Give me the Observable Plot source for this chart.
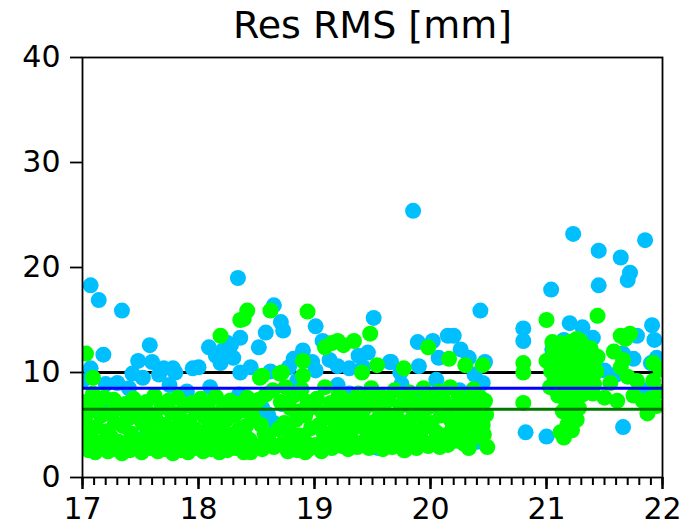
<!DOCTYPE html>
<html>
<head>
<meta charset="utf-8">
<script src="https://cdn.jsdelivr.net/npm/d3@7"></script>
<script src="https://cdn.jsdelivr.net/npm/@observablehq/plot@0.6"></script>
<style>
  html, body { margin: 0; padding: 0; background: white; }
</style>
</head>
<body>
<div id="chart"></div>
<script>
const titleText = "Res RMS [mm]";
const xTicks = [17, 18, 19, 20, 21, 22];
const yTicks = [0, 10, 20, 30, 40];
const levelBlack = 10;
const levelBlue = 8.5;
const levelGreen = 6.5;

// blue series [x, y]
const blueData = [
  [17.07,18.3],[17.14,16.9],[17.34,15.9],[18.34,19.0],[18.65,16.4],[19.85,25.4],
  [21.23,23.2],[21.85,22.6],[21.45,21.6],[21.64,20.95],[21.72,19.5],[21.70,18.8],
  [21.45,18.3],[21.04,17.9],[20.43,15.9],[19.51,15.2],[20.80,14.2],[20.80,13.0],
  [21.91,14.5],[21.93,13.1],[21.20,14.7],[21.31,14.3],[21.40,13.3],[21.78,13.5],
  [21.66,11.8],[18.71,14.8],[18.73,14.0],[18.58,13.8],[18.52,12.4],[18.36,13.3],
  [18.28,12.6],[19.01,14.4],[19.07,13.0],[18.90,12.1],[19.38,11.6],[19.46,11.9],
  [18.36,10.0],[19.01,10.2],[18.60,4.2],[19.55,2.8],[17.18,11.7],[17.58,12.6],
  [17.48,11.1],[17.60,11.0],[17.70,10.4],[17.78,10.4],[17.80,10.0],[17.95,10.4],
  [18.00,10.5],[18.09,12.4],[18.21,12.1],[18.25,12.8],[18.19,10.9],[17.30,9.0],
  [17.07,10.4],[17.52,9.5],[17.43,9.9],[17.66,9.8],[18.15,11.6],[18.30,11.4],
  [18.82,11.3],[18.78,10.5],[18.62,10.1],[18.45,10.5],[19.20,10.6],[19.30,10.4],
  [19.65,11.0],[20.15,13.5],[20.20,13.5],[19.89,12.9],[20.02,13.0],[20.47,11.0],
  [20.33,11.4],[19.66,11.0],[20.07,11.4],[20.82,4.3],[21.00,3.9],[21.66,4.8],
  [21.90,10.9],[21.05,12.2],[21.15,13.1],[21.35,12.0],[21.60,9.8],[21.95,11.4],
  [20.26,12.2],[20.38,9.8],[19.90,10.6],[19.74,10.0],[19.42,10.5],[19.13,11.2],
  [18.98,11.0],[17.25,6.5],[17.55,4.0],[17.90,8.2],[18.35,7.9],[18.55,6.6],
  [18.65,5.2],[18.72,7.0],[18.60,6.0],[18.68,5.0],[19.10,3.5],[19.30,8.0],
  [19.60,3.2],[19.85,7.6],[20.10,3.6],[20.25,8.3],[20.40,3.4],[20.45,9.0],
  [18.10,8.6],[17.40,8.5],[17.00,9.2],[19.50,2.9],[19.58,3.3],[19.35,3.0],
  [19.75,8.9],[20.05,9.3],[19.20,8.8],[18.85,9.2],[17.20,8.9],[17.75,8.8],
  [21.10,9.5],[21.28,8.0],[21.50,10.2],[21.85,8.3],[21.75,11.3]
];

// green series [x, y]
const greenData = [
  [17.01,3.0],[17.02,5.5],[17.03,7.2],[17.04,4.1],[17.05,2.6],[17.06,6.3],[17.08,3.6],[17.09,8.0],
  [17.11,2.4],[17.12,4.8],[17.13,6.9],[17.15,3.3],[17.16,5.9],[17.18,2.9],[17.19,7.6],
  [17.21,4.4],[17.22,2.5],[17.24,6.1],[17.25,3.8],[17.27,7.4],[17.28,5.2],[17.29,2.7],
  [17.31,3.4],[17.32,6.6],[17.34,2.3],[17.35,4.9],[17.37,7.0],[17.38,3.1],[17.39,5.6],
  [17.41,2.6],[17.42,4.2],[17.44,7.5],[17.45,5.8],[17.47,3.0],[17.48,6.4],
  [17.51,2.4],[17.52,5.1],[17.54,3.7],[17.55,7.2],[17.57,4.5],[17.58,2.8],[17.59,6.0],
  [17.61,3.3],[17.62,7.8],[17.64,5.4],[17.65,2.5],[17.67,4.0],[17.68,6.7],[17.69,3.0],
  [17.71,5.0],[17.72,2.7],[17.74,7.3],[17.75,3.9],[17.77,6.2],[17.78,2.3],[17.79,4.7],
  [17.81,3.2],[17.82,7.6],[17.84,5.6],[17.85,2.6],[17.87,4.3],[17.88,6.8],[17.89,3.5],
  [17.91,2.4],[17.92,5.3],[17.94,7.1],[17.95,3.0],[17.97,4.6],[17.98,6.3],[17.99,2.8],
  [18.01,4.0],[18.02,7.5],[18.04,2.5],[18.05,5.8],[18.07,3.3],[18.08,6.9],[18.09,4.8],
  [18.11,2.7],[18.12,6.0],[18.14,3.8],[18.15,7.7],[18.17,5.1],[18.18,2.4],[18.19,4.4],
  [18.21,6.5],[18.22,3.1],[18.24,5.5],[18.25,2.6],[18.27,7.3],[18.28,4.1],[18.29,3.4],
  [18.31,5.9],[18.32,2.8],[18.34,7.0],[18.35,4.6],[18.37,3.2],[18.38,6.4],[18.39,2.4],
  [18.41,4.9],[18.42,7.6],[18.44,3.6],[18.45,2.6],[18.47,5.7],[18.48,6.9],
  [18.51,3.0],[18.52,7.4],[18.54,5.0],[18.55,2.7],[18.57,4.2],[18.58,7.9],
  [18.61,3.4],[18.64,8.3],[18.65,2.9],[18.69,4.6],
  [18.71,7.2],[18.72,3.2],[18.74,5.2],[18.75,8.6],[18.77,2.5],[18.78,4.4],[18.79,6.6],
  [18.81,3.0],[18.82,7.8],[18.84,5.5],[18.85,2.6],[18.87,4.0],[18.88,6.3],[18.89,8.4],
  [18.91,3.6],[18.92,5.9],[18.94,7.2],[18.95,2.7],[18.97,4.7],[18.98,6.7],
  [19.01,3.1],[19.02,7.5],[19.04,5.0],[19.05,2.9],[19.07,6.2],[19.08,4.2],[19.09,8.6],
  [19.11,3.4],[19.12,5.7],[19.14,7.1],[19.15,2.8],[19.17,4.5],[19.18,6.6],[19.19,3.9],
  [19.21,7.9],[19.22,5.2],[19.24,3.0],[19.25,6.1],[19.27,4.3],[19.28,7.3],[19.29,2.7],
  [19.31,5.5],[19.32,3.6],[19.34,6.8],[19.35,4.8],[19.37,2.9],[19.38,8.0],[19.39,5.9],
  [19.41,3.3],[19.42,6.4],[19.44,4.6],[19.45,7.6],[19.47,2.8],[19.48,5.2],[19.49,8.5],
  [19.51,4.0],[19.52,6.9],[19.54,3.1],[19.55,5.6],[19.57,7.8],[19.58,4.5],[19.59,2.7],
  [19.61,6.2],[19.62,3.5],[19.64,7.4],[19.65,5.0],[19.67,2.9],[19.68,4.3],[19.69,8.3],
  [19.71,5.7],[19.72,3.2],[19.74,6.8],[19.75,4.9],[19.77,2.6],[19.78,7.5],[19.79,3.9],
  [19.81,5.3],[19.82,8.1],[19.84,3.4],[19.85,6.4],[19.87,4.4],[19.88,2.8],[19.89,7.1],
  [19.91,5.8],[19.92,3.7],[19.94,8.5],[19.95,4.8],[19.97,6.6],[19.98,3.0],[19.99,7.7],
  [20.01,5.2],[20.02,3.3],[20.04,6.9],[20.05,4.3],[20.07,8.2],[20.08,2.9],[20.09,5.9],
  [20.11,7.4],[20.12,4.0],[20.14,6.1],[20.15,3.1],[20.17,8.6],[20.18,5.4],[20.19,4.7],
  [20.21,6.8],[20.22,3.5],[20.24,7.9],[20.25,5.0],[20.27,4.2],[20.28,6.3],[20.29,3.2],
  [20.31,7.3],[20.32,4.9],[20.34,6.0],[20.35,3.6],[20.37,8.4],[20.38,5.5],[20.39,4.3],
  [20.41,6.6],[20.42,3.9],[20.43,7.6],[20.45,5.0],[20.46,4.1],[20.48,6.0],
  [17.03,11.8],[17.09,9.5],[18.19,13.5],[18.36,15.0],[18.42,15.9],[18.39,15.1],
  [18.62,15.9],[18.94,15.8],[19.09,12.4],[19.20,13.0],[19.34,13.0],[19.48,13.7],
  [18.53,9.5],[18.70,9.9],[18.90,11.1],[18.90,9.7],[19.41,10.0],[19.54,10.7],
  [18.72,10.0],[18.55,9.7],[18.60,4.0],[18.45,2.4],[18.92,2.4],[19.06,2.5],
  [19.98,12.4],[20.16,11.3],[20.30,10.7],[20.45,10.7],[19.77,10.4],
  [20.80,10.9],[20.80,10.0],[20.80,7.1],[20.47,7.3],[20.49,2.9],[19.78,2.6],
  [20.33,2.8],[20.41,5.4],[19.15,12.8],[19.25,12.6],
  [21.00,15.0],[21.44,15.4],[21.00,11.1],
  [21.02,11.2],[21.03,8.6],[21.04,10.1],[21.05,12.9],[21.06,12.3],[21.07,9.4],[21.08,11.6],
  [21.09,10.8],[21.10,7.8],[21.11,10.5],[21.12,4.3],[21.12,12.8],[21.13,8.9],[21.14,6.3],
  [21.15,11.0],[21.15,3.8],[21.16,9.8],[21.17,7.2],[21.18,12.5],[21.18,5.0],[21.19,10.3],
  [21.20,8.2],[21.21,11.8],[21.21,6.0],[21.22,4.5],[21.23,9.3],[21.24,12.1],[21.24,7.5],
  [21.25,10.8],[21.26,5.5],[21.27,8.7],[21.28,11.4],[21.28,6.6],[21.29,13.0],[21.30,9.9],
  [21.31,12.6],[21.31,7.9],[21.32,10.2],[21.33,10.6],[21.34,8.4],[21.35,11.9],[21.36,9.0],
  [21.37,9.2],[21.38,12.3],[21.39,10.9],[21.40,8.0],[21.41,8.9],[21.42,10.0],[21.43,10.1],
  [21.44,11.5],[21.20,12.9],[21.10,12.0],[21.26,13.2],
  [21.55,9.0],[21.61,7.3],[21.64,13.5],[21.72,13.7],[21.68,13.2],[21.64,10.5],
  [21.70,9.6],[21.78,9.2],[21.75,7.8],[21.87,6.1],[21.90,7.5],[21.92,10.9],
  [21.92,9.2],[21.97,8.2],[21.95,6.8],[21.98,10.3],[21.83,7.3],[21.66,11.2],
  [21.50,7.6],[21.58,12.0]
];

// minor tick positions (every 0.1 between 17 and 22)
const xMinorTicks = d3.range(170, 221).map(v => v / 10);

const W = 686, H = 530, mL = 82, mR = 24, mT = 57, mB = 53;
const yMin = 0, yMax = 40;
const pxPerUnit = (H - mT - mB) / (yMax - yMin);
const minorLen = 8 / pxPerUnit;   // tick lengths converted to data units
const majorLen = 12 / pxPerUnit;

const plot = Plot.plot({
  width: W,
  height: H,
  marginLeft: mL,
  marginRight: mR,
  marginTop: mT,
  marginBottom: mB,
  x: {domain: [17, 22], axis: null},
  y: {domain: [yMin, yMax], axis: null},
  style: {fontFamily: "DejaVu Sans", background: "white", color: "black"},
  marks: [
    Plot.ruleY([levelBlack], {stroke: "black", strokeWidth: 3}),
    Plot.dot(blueData, {x: d => d[0], y: d => d[1], r: 8, fill: "#00bfff", stroke: "none", clip: "frame"}),
    Plot.dot(greenData, {x: d => d[0], y: d => d[1], r: 8, fill: "#00ff00", stroke: "none", clip: "frame"}),
    Plot.ruleY([levelBlue], {stroke: "#0000ff", strokeWidth: 3}),
    Plot.ruleY([levelGreen], {stroke: "#007800", strokeWidth: 3}),
    Plot.frame({stroke: "black", strokeWidth: 1.8}),
    Plot.axisY({anchor: "left", ticks: yTicks, tickSize: 12, tickPadding: 10, fontSize: 30, strokeWidth: 1.8, tickFormat: d => String(d), label: null}),
    Plot.ruleX(xMinorTicks, {x: d => d, y1: yMin, y2: yMin - minorLen, stroke: "black", strokeWidth: 2}),
    Plot.ruleX(xTicks, {x: d => d, y1: yMin, y2: yMin - majorLen, stroke: "black", strokeWidth: 2.5}),
    Plot.text(xTicks, {x: d => d, y: yMin, text: d => String(d), dy: 32, fontSize: 30, lineAnchor: "middle", fill: "black"}),
    Plot.text([titleText], {frameAnchor: "top", dy: -32, fontSize: 38, lineAnchor: "middle", fill: "black"})
  ]
});
document.getElementById("chart").appendChild(plot);
</script>
</body>
</html>
